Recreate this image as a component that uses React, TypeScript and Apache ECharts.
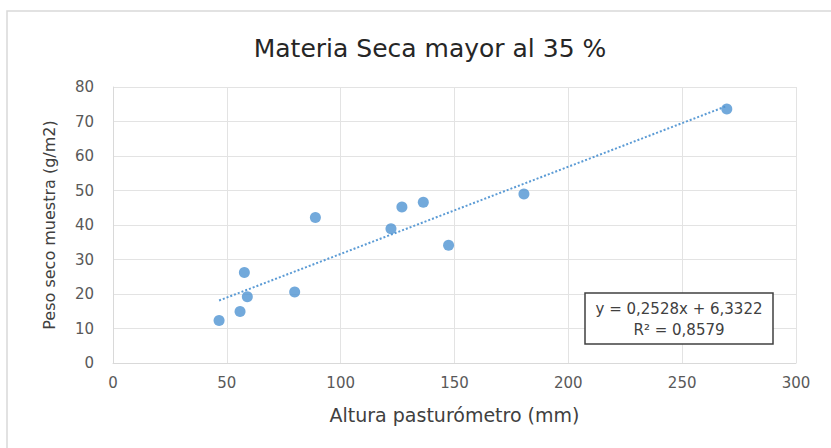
import React, { useEffect, useRef } from "react";
import * as echarts from "echarts";

const alturaMm = [46.6, 55.8, 59.0, 57.7, 79.8, 88.9, 122.1, 126.9, 136.3, 147.4, 180.5, 269.6];
const pesoSeco = [12.3, 14.9, 19.2, 26.2, 20.6, 42.2, 38.9, 45.2, 46.6, 34.1, 49.0, 73.6];
const slope = 0.2528;
const intercept = 6.3322;
const equationText = "y = 0,2528x + 6,3322";
const r2Text = "R² = 0,8579";
const titleText = "Materia Seca mayor al 35 %";
const xName = "Altura pasturómetro (mm)";
const yName = "Peso seco muestra (g/m2)";

export default function App() {
  const ref = useRef<HTMLDivElement>(null);
  useEffect(() => {
    if (!ref.current) return;
    const chart = echarts.init(ref.current, null, { renderer: "svg" });
    const pts = alturaMm.map((x, i) => [x, pesoSeco[i]]);
    const xmin = Math.min(...alturaMm);
    const xmax = Math.max(...alturaMm);
    const trend = [
      [xmin, slope * xmin + intercept],
      [xmax, slope * xmax + intercept],
    ];
    const font = "'DejaVu Sans', 'Open Sans', sans-serif";
    chart.setOption({
      animation: false,
      backgroundColor: "#ffffff",
      title: {
        text: titleText,
        left: 425,
        top: 31,
        textAlign: "center",
        textStyle: { fontFamily: font, fontSize: 25, fontWeight: "normal", color: "#262626" },
      },
      grid: { left: 113, right: 35, top: 87, bottom: 85 },
      xAxis: {
        type: "value",
        min: 0,
        max: 300,
        interval: 50,
        name: xName,
        nameLocation: "middle",
        nameGap: 42,
        nameTextStyle: { fontFamily: font, fontSize: 19, color: "#404040" },
        axisLine: { show: true, lineStyle: { color: "#d9d9d9" } },
        axisTick: { show: false },
        axisLabel: { fontFamily: font, fontSize: 15, color: "#595959", margin: 12 },
        splitLine: { show: true, lineStyle: { color: "#e3e3e3" } },
      },
      yAxis: {
        type: "value",
        min: 0,
        max: 80,
        interval: 10,
        name: yName,
        nameLocation: "middle",
        nameGap: 56,
        nameTextStyle: { fontFamily: font, fontSize: 16, color: "#404040" },
        axisLine: { show: true, lineStyle: { color: "#d9d9d9" } },
        axisTick: { show: false },
        axisLabel: { fontFamily: font, fontSize: 15, color: "#595959", margin: 19 },
        splitLine: { show: true, lineStyle: { color: "#e3e3e3" } },
      },
      series: [
        {
          type: "line",
          data: trend,
          symbol: "none",
          lineStyle: { color: "#5b9bd5", width: 2, type: [2, 2] },
          z: 2,
        },
        {
          type: "scatter",
          data: pts,
          symbol: "circle",
          symbolSize: 11,
          itemStyle: { color: "#4f93d2" },
          z: 3,
        },
      ],
      graphic: [
        {
          type: "rect",
          shape: { x: 7, y: 11, width: 840, height: 460 },
          style: { fill: "none", stroke: "#d9d9d9", lineWidth: 1.5 },
          silent: true,
          z: -1,
        },
        {
          type: "rect",
          shape: { x: 585, y: 293, width: 188, height: 51 },
          style: { fill: "#ffffff", stroke: "#404040", lineWidth: 1.5 },
          z: 10,
        },
        {
          type: "text",
          x: 679,
          y: 309,
          style: {
            text: equationText,
            fontFamily: font,
            fontSize: 15,
            fill: "#404040",
            align: "center",
            verticalAlign: "middle",
          },
          z: 11,
        },
        {
          type: "text",
          x: 679,
          y: 330,
          style: {
            text: r2Text,
            fontFamily: font,
            fontSize: 15,
            fill: "#404040",
            align: "center",
            verticalAlign: "middle",
          },
          z: 11,
        },
      ],
    });
    return () => chart.dispose();
  }, []);
  return (
    <div
      ref={ref}
      style={{ position: "absolute", left: 0, top: 0, width: 831, height: 448 }}
    />
  );
}
